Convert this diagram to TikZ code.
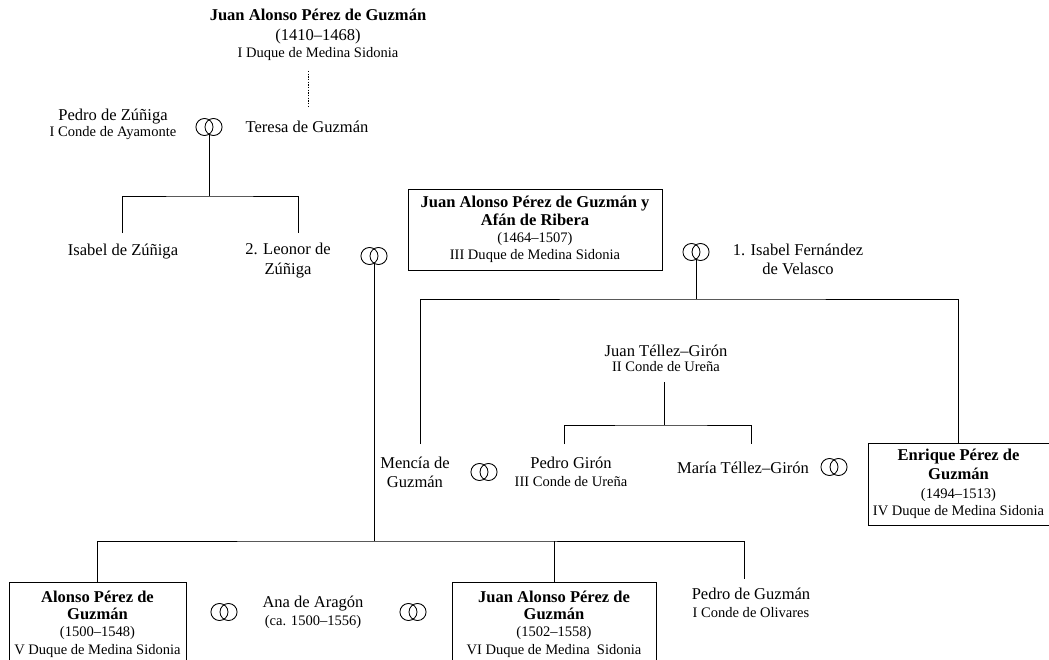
\documentclass[tikz,border=0pt]{standalone}
\usepackage{fontspec}
\setmainfont{Liberation Serif}
\usetikzlibrary{positioning}
\newcommand{\apretado}{\lineskiplimit=-20pt\relax}
\tikzstyle{persona} = [align=center,inner sep=0pt,font=\fontsize{12.4}{15}\selectfont\apretado]
\tikzstyle{caja} = [draw,align=center,inner sep=0pt,font=\fontsize{12.4}{13}\selectfont\apretado]
\tikzstyle{punteado} = [dash pattern=on 1pt off 1pt]
\newcommand{\tit}[1]{{\fontsize{10.9}{13}\selectfont #1}}
\newcommand{\anillo}[1]{\draw ([xshift=-3.4pt]#1) circle (6.4pt); \draw ([xshift=3.4pt]#1) circle (6.4pt);}

\begin{document}
\begin{tikzpicture}[line width=0.65pt,x=0.75pt,y=-0.75pt]

	\useasboundingbox (0,0) rectangle (1049,660);

	% primera generacion
	\node[persona] (jap1) at (318,34.5) {\textbf{Juan Alonso Pérez de Guzmán}\\(1410–1468)\\[-2.25pt]\tit{I Duque de Medina Sidonia}};
	\node[persona] (pzuniga) at (113,124) {Pedro de Zúñiga\\[-3pt]\tit{I Conde de Ayamonte}};
	\node[persona] (teresa) at (307,127) {Teresa de Guzmán};

	\coordinate (p1) at (308,71);
	\coordinate (p2) at (308,108);
	\draw[punteado,thin] (p1) -- (p2);

	\coordinate (a1) at (209,127);
	\anillo{a1}

	% hijas de Pedro y Teresa
	\node[persona] (isabelz) at (123,252) {Isabel de Zúñiga};
	\node[persona] (leonor) at (288,261) {2. Leonor de\\Zúñiga};

	\coordinate (b1) at (209,196);
	\coordinate (c1) at (122,233);
	\coordinate (c2) at (298,233);
	\draw ([yshift=-5.4pt]a1) -- (b1);
	\draw (c1) |- (b1) -| (c2);

	% III Duque
	\node[caja, minimum width=190.5pt, minimum height=60.75pt] (duque3) at (535,229.5) {\textbf{Juan Alonso Pérez de Guzmán y}\\\textbf{Afán de Ribera}\\\tit{(1464–1507)}\\\tit{III Duque de Medina Sidonia}};
	\node[persona] (isabelf) at (798,259.5) {1. Isabel Fernández\\[-0.75pt]de Velasco};

	\coordinate (a2) at (374,256);
	\anillo{a2}
	\coordinate (a3) at (696,252);
	\anillo{a3}

	% hijos del primer matrimonio
	\node[persona] (juantg) at (666,358) {Juan Téllez–Girón\\[-3.75pt]\tit{II Conde de Ureña}};
	\node[persona] (mencia) at (415,472.5) {Mencía de\\[-0.75pt]Guzmán};
	\node[persona] (pgiron) at (571,472) {Pedro Girón\\[-1.5pt]\tit{III Conde de Ureña}};
	\node[persona] (maria) at (743,468) {María Téllez–Girón};
	\node[caja, minimum width=135.75pt, minimum height=61.5pt] (enrique) at (958.5,484) {\textbf{Enrique Pérez de}\\[1pt]\textbf{Guzmán}\\[1pt]\tit{(1494–1513)}\\\tit{IV Duque de Medina Sidonia}};

	\coordinate (a4) at (484,472);
	\anillo{a4}
	\coordinate (a5) at (834,467);
	\anillo{a5}

	\coordinate (b2) at (696,299);
	\coordinate (c3) at (420,444);
	\draw ([yshift=-5.4pt]a3) -- (b2);
	\draw (c3) |- (b2) -| (enrique.north);

	\coordinate (t1) at (664,382);
	\coordinate (b4) at (664,425);
	\coordinate (c4) at (564,444);
	\coordinate (c5) at (751,444);
	\draw (t1) -- (b4);
	\draw (c4) |- (b4) -| (c5);

	% hijos del segundo matrimonio
	\node[caja, minimum width=132.75pt, minimum height=63pt] (alonso) at (97.5,624) {\textbf{Alonso Pérez de}\\\textbf{Guzmán}\\\tit{(1500–1548)}\\\tit{V Duque de Medina Sidonia}};
	\node[persona] (ana) at (313,612) {Ana de Aragón\\[-1.5pt]\tit{(ca. 1500–1556)}};
	\node[caja, minimum width=153pt, minimum height=63pt] (juan6) at (554,624) {\textbf{Juan Alonso Pérez de}\\\textbf{Guzmán}\\\tit{(1502–1558)}\\\tit{VI Duque de Medina\ \ Sidonia}};
	\node[persona] (pguzman) at (751,603) {Pedro de Guzmán\\[-1.5pt]\tit{I Conde de Olivares}};

	\coordinate (a6) at (224,612);
	\anillo{a6}
	\coordinate (a7) at (413,612);
	\anillo{a7}

	\coordinate (b3) at (374,541);
	\coordinate (c6) at (744,579);
	\draw ([yshift=-5.4pt]a2) -- (b3);
	\draw (alonso.north) |- (b3) -| (c6);
	\draw (juan6.north) -- (juan6.north |- b3);

\end{tikzpicture}
\end{document}
